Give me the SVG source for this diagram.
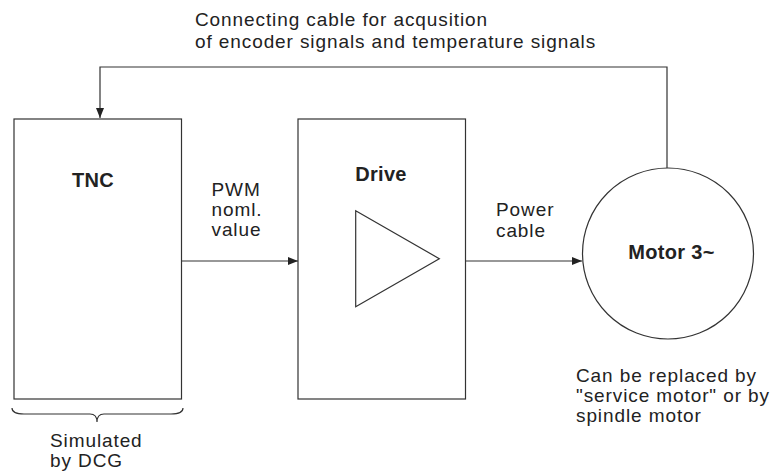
<svg xmlns="http://www.w3.org/2000/svg" width="775" height="475" viewBox="0 0 775 475">
<style>
.ln{fill:none;stroke:#333;stroke-width:1.2}
.t{font-family:"Liberation Sans",Arial,sans-serif;font-size:19px;letter-spacing:0.9px;fill:#222}
.b{font-weight:bold;font-size:20px;letter-spacing:0.3px}
</style>
<defs>
<marker id="ah" markerWidth="10" markerHeight="8" refX="10" refY="4" orient="auto" markerUnits="userSpaceOnUse">
<path d="M0,0 L10,4 L0,8 Z" fill="#222"/>
</marker>
</defs>
<rect width="775" height="475" fill="#fff"/>
<g id="connectors">
<path class="ln" d="M667,168 V67 H100 V118" marker-end="url(#ah)"/>
<path class="ln" d="M181,261 H298" marker-end="url(#ah)"/>
<path class="ln" d="M466,261 H582" marker-end="url(#ah)"/>
</g>
<g id="tnc">
<rect class="ln" x="14" y="119" width="167.5" height="280"/>
<text class="t b" x="93" y="187" text-anchor="middle">TNC</text>
<path class="ln" d="M12,408 Q12,414 24,414 H90 Q97,414 97,422 Q97,414 104,414 H171 Q183,414 183,408"/>
<text class="t" x="50" y="447">Simulated</text>
<text class="t" x="50" y="467">by DCG</text>
</g>
<g id="drive">
<rect class="ln" x="298" y="119" width="167.5" height="280"/>
<text class="t b" x="381" y="181" text-anchor="middle">Drive</text>
<path class="ln" d="M355.7,210.7 L439.3,258.7 L355.7,306.7 Z"/>
</g>
<g id="motor">
<circle class="ln" cx="668" cy="253.5" r="85.5"/>
<text class="t b" x="671.5" y="259" text-anchor="middle">Motor 3~</text>
</g>
<g id="labels">
<text class="t" x="195" y="26">Connecting cable for acqusition</text>
<text class="t" x="195" y="48">of encoder signals and temperature signals</text>
<text class="t" x="211.5" y="196">PWM</text>
<text class="t" x="211.5" y="216">noml.</text>
<text class="t" x="211.5" y="236">value</text>
<text class="t" x="496" y="216">Power</text>
<text class="t" x="496" y="237">cable</text>
<text class="t" x="576" y="382">Can be replaced by</text>
<text class="t" x="576" y="402">"service motor" or by</text>
<text class="t" x="576" y="422">spindle motor</text>
</g>
</svg>
